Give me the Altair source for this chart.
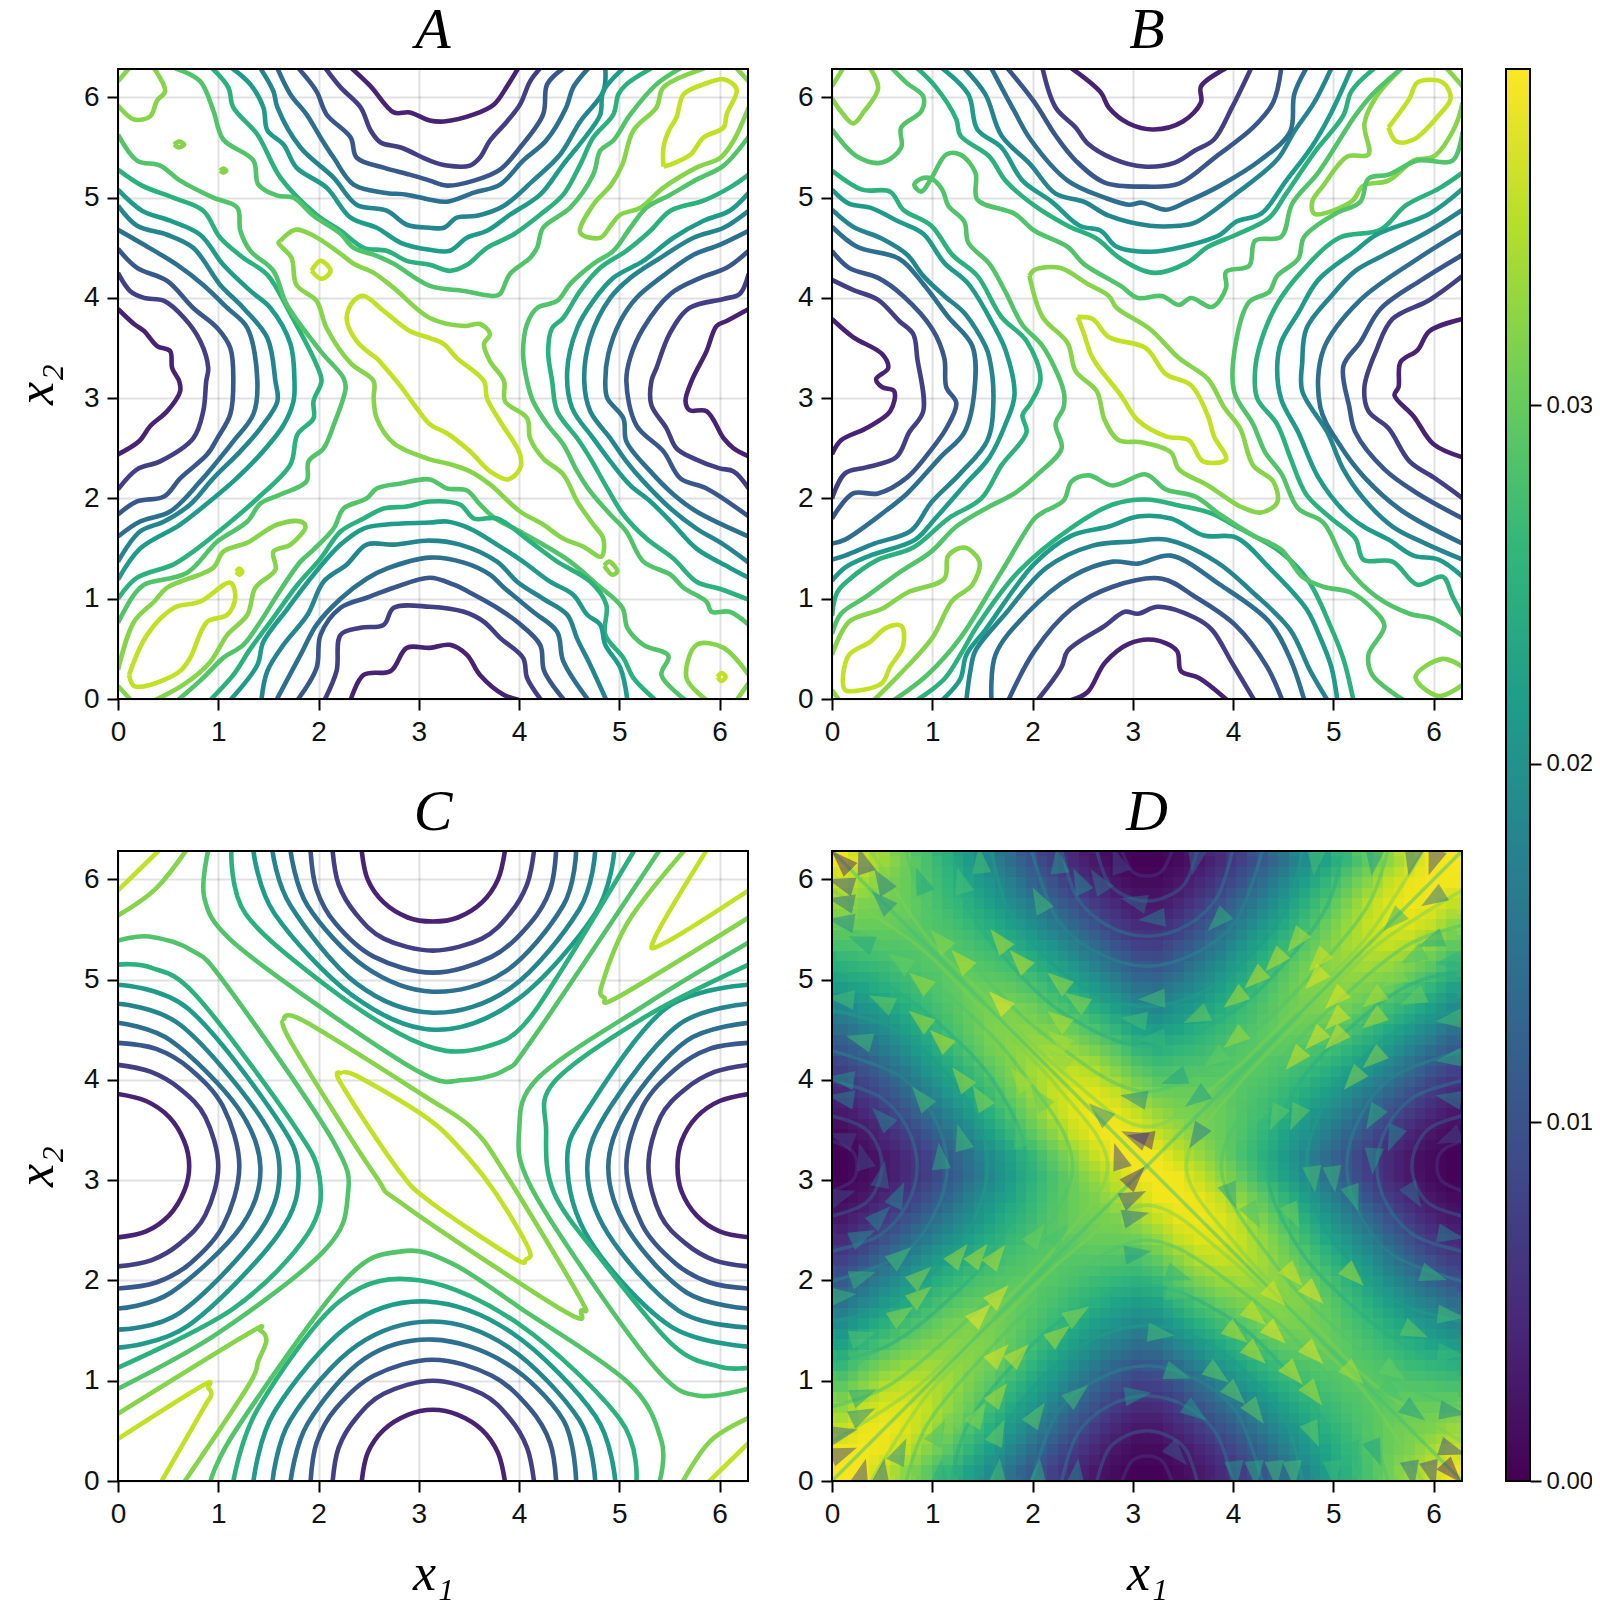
import math
import altair as alt
import pandas as pd

TAU = 2 * math.pi
TICKS = [0, 1, 2, 3, 4, 5, 6]
LEVEL_MAX = 11
CB_MAX = 0.03937
SERIF = "Liberation Serif"
SANS = "Liberation Sans"
SIZE = 630

# Contour lines: (level index, x,y,x,y,...)
A_LINES = [
 (1,[2.33,6.29,2.52,6.11,2.75,5.85,2.91,5.85,3.11,5.77,3.25,5.76,3.55,5.83,3.75,5.93,3.88,6.11,3.99,6.29]),
 (2,[2.07,6.29,2.22,6.1,2.42,5.9,2.52,5.67,2.62,5.55,2.82,5.5,3.11,5.37,3.28,5.32,3.51,5.32,3.61,5.4,3.71,5.57,3.88,5.76,4.01,5.93,4.11,6.16,4.21,6.29]),
 (3,[1.8,6.29,1.98,6.06,2.08,5.83,2.32,5.6,2.38,5.4,2.65,5.3,2.91,5.23,3.11,5.17,3.28,5.12,3.55,5.17,3.81,5.28,4.01,5.5,4.24,5.83,4.28,6.13,4.44,6.29]),
 (4,[1.59,6.29,1.72,6.03,1.88,5.83,2.02,5.6,2.15,5.4,2.35,5.13,2.65,5.05,2.88,5.03,3.11,4.98,3.28,4.96,3.55,5.05,3.81,5.13,4.04,5.37,4.27,5.57,4.47,5.9,4.54,6.1,4.69,6.29]),
 (5,[1.42,6.29,1.55,6.06,1.59,5.9,1.82,5.5,2.15,5.2,2.38,4.93,2.68,4.87,2.88,4.73,3.11,4.7,3.25,4.7,3.38,4.8,3.58,4.82,3.85,4.92,4.14,5.17,4.41,5.43,4.61,5.76,4.84,6.06,4.86,6.29]),
 (6,[1.14,6.29,1.32,6.13,1.45,5.9,1.49,5.67,1.65,5.53,1.78,5.3,2.08,5.1,2.32,4.8,2.58,4.7,2.82,4.55,3.11,4.48,3.31,4.47,3.48,4.6,3.68,4.67,3.91,4.83,4.21,5.03,4.44,5.33,4.68,5.63,4.81,5.83,4.84,6.06,5.04,6.29]),
 (7,[.94,6.29,1.1,6.1,1.15,5.9,1.39,5.63,1.62,5.2,1.98,4.83,2.22,4.67,2.45,4.5,2.68,4.47,2.88,4.37,3.11,4.33,3.31,4.27,3.48,4.33,3.68,4.5,3.94,4.63,4.21,4.83,4.44,5.03,4.61,5.33,4.74,5.6,4.94,5.83,4.99,6.03,5.07,6.13,5.32,6.29]),
 (8,[.57,6.29,.82,6.16,.95,5.87,1.05,5.58,1.35,5.37,1.4,5.13,1.59,5.02,1.75,5.0,1.95,4.82,2.22,4.64,2.35,4.5,2.58,4.42,2.75,4.34,3.11,4.12,3.45,4.07,3.75,4.02,3.81,4.04,3.91,4.24,4.11,4.4,4.18,4.5,4.24,4.7,4.51,4.9,4.74,5.23,4.81,5.47,4.94,5.57,5.11,5.83,5.37,6.13,5.61,6.29]),
 (9,[5.85,6.29,5.44,6.1,5.37,5.9,5.14,5.67,5.03,5.33,4.92,5.13,4.74,4.93,4.61,4.65,4.81,4.6,4.92,4.73,5.01,4.83,5.21,4.9,5.44,5.1,5.77,5.3,6.01,5.4,6.14,5.57,6.29,5.9]),
 (8,[6.29,5.61,6.04,5.32,5.77,5.18,5.51,5.03,5.27,4.9,5.11,4.7,4.94,4.47,4.74,4.34,4.51,4.14,4.38,3.97,4.18,3.9,4.08,3.74,4.04,3.44,4.08,3.17,4.14,2.97,4.28,2.74,4.44,2.54,4.58,2.27,4.71,2.07,4.91,1.84,5.07,1.67,5.24,1.37,5.51,1.24,5.64,1.11,5.87,.97,5.92,.87,6.1,.87,6.29,.74]),
 (7,[6.29,5.23,6.1,5.1,5.84,4.97,5.51,4.87,5.31,4.67,5.07,4.47,4.81,4.3,4.61,4.07,4.44,3.8,4.33,3.7,4.29,3.47,4.33,3.17,4.38,2.87,4.58,2.6,4.71,2.4,4.88,2.1,5.04,1.84,5.27,1.6,5.54,1.4,5.77,1.17,6.0,1.1,6.29,.99]),
 (6,[6.29,5.05,6.1,4.87,5.84,4.77,5.54,4.6,5.24,4.37,4.94,4.2,4.74,3.97,4.58,3.7,4.48,3.27,4.53,2.9,4.74,2.6,4.91,2.37,5.11,2.13,5.31,1.97,5.54,1.74,5.77,1.5,6.1,1.31,6.29,1.21]),
 (5,[6.29,4.87,6.04,4.7,5.74,4.6,5.41,4.4,5.11,4.2,4.91,4.0,4.71,3.6,4.65,3.17,4.71,2.87,4.91,2.6,5.07,2.37,5.24,2.17,5.51,1.9,5.77,1.7,6.04,1.54,6.29,1.36]),
 (4,[6.29,4.67,6.0,4.53,5.74,4.43,5.41,4.2,5.17,4.0,5.01,3.77,4.89,3.44,4.86,3.17,4.88,3.0,5.04,2.8,5.07,2.57,5.31,2.27,5.54,2.04,5.77,1.87,6.29,1.62]),
 (3,[6.29,4.47,6.07,4.3,5.81,4.2,5.51,4.04,5.24,3.7,5.11,3.41,5.07,3.17,5.17,2.73,5.44,2.47,5.61,2.2,5.87,2.1,6.29,1.82]),
 (2,[6.29,4.24,6.2,4.04,6.04,3.99,5.7,3.9,5.5,3.64,5.37,3.3,5.32,3.17,5.32,2.93,5.47,2.7,5.57,2.5,5.74,2.4,6.0,2.3,6.14,2.27,6.29,2.1]),
 (1,[6.29,3.89,6.07,3.77,5.97,3.72,5.87,3.47,5.72,3.17,5.66,2.97,5.7,2.88,5.87,2.87,6.04,2.6,6.14,2.5,6.29,2.42]),
 (1,[0,3.89,.16,3.74,.26,3.67,.39,3.52,.52,3.47,.54,3.3,.61,3.17,.62,3.07,.49,2.87,.32,2.72,.21,2.57,0,2.44]),
 (2,[0,4.25,.12,4.07,.26,4.0,.46,3.97,.66,3.8,.82,3.57,.9,3.3,.88,3.17,.85,2.87,.75,2.6,.42,2.37,.19,2.29,0,2.09]),
 (3,[0,4.49,.19,4.3,.49,4.17,.75,3.9,.99,3.7,1.12,3.5,1.15,3.17,1.12,2.84,.99,2.6,.89,2.44,.62,2.2,.46,2.02,.19,1.97,0,1.84]),
 (4,[0,4.68,.26,4.53,.59,4.33,.85,4.13,1.09,3.9,1.29,3.7,1.39,3.17,1.35,2.84,1.15,2.57,.99,2.37,.82,2.17,.52,1.87,.22,1.77,0,1.62]),
 (5,[0,4.92,.19,4.72,.49,4.63,.75,4.5,1.02,4.13,1.25,3.9,1.49,3.6,1.57,3.17,1.59,2.97,1.42,2.7,1.22,2.47,.95,2.2,.72,1.94,.46,1.77,.22,1.67,0,1.37]),
 (6,[0,5.08,.24,4.87,.52,4.77,.82,4.63,1.05,4.33,1.32,4.07,1.52,3.9,1.72,3.54,1.76,3.17,1.75,2.97,1.65,2.73,1.42,2.44,1.15,2.17,.95,2.0,.62,1.74,.22,1.5,0,1.19]),
 (7,[0,5.28,.24,5.12,.55,5.0,.85,4.87,1.02,4.6,1.25,4.4,1.49,4.23,1.72,3.84,1.99,3.31,2.03,3.17,1.95,2.97,1.95,2.8,1.79,2.64,1.72,2.34,1.39,2.0,1.09,1.74,.75,1.47,.55,1.34,.19,1.21,0,1.0]),
 (8,[0,5.63,.19,5.37,.42,5.32,.62,5.17,.95,5.0,1.19,4.9,1.22,4.67,1.32,4.47,1.55,4.27,1.68,3.94,2.02,3.47,2.25,3.2,2.27,3.1,2.15,2.73,2.05,2.5,1.9,2.37,1.88,2.17,1.62,2.04,1.42,1.95,1.29,1.77,.99,1.57,.69,1.26,.26,1.14,.16,1.04,0,.76]),
 (9,[0,.29,.16,.77,.36,.97,.49,1.11,.95,1.31,1.05,1.47,1.29,1.56,1.59,1.74,1.82,1.77,1.87,1.72,1.72,1.54,1.55,1.47,1.57,1.29,1.37,1.11,1.29,.84,1.09,.64,.92,.37,.65,.14,.37,-.01]),
 (9,[1.62,4.57,1.77,4.68,1.95,4.62,2.22,4.44,2.35,4.34,2.55,4.25,2.75,4.1,3.11,3.8,3.45,3.72,3.61,3.74,3.71,3.64,3.65,3.54,3.71,3.37,3.85,3.17,3.86,2.97,4.08,2.8,4.11,2.6,4.24,2.4,4.44,2.24,4.58,1.97,4.74,1.74,4.84,1.6,4.82,1.42,4.64,1.52,4.44,1.6,4.24,1.74,4.01,1.87,3.71,2.14,3.51,2.27,3.28,2.35,3.11,2.39,2.75,2.55,2.58,2.8,2.55,3.0,2.55,3.17,2.32,3.35,2.08,3.7,1.98,3.97,1.78,4.13,1.73,4.4,1.6,4.55,1.62,4.57]),
 (10,[2.58,3.4,2.38,3.57,2.28,3.8,2.35,3.97,2.45,4.02,2.65,3.87,2.91,3.67,3.11,3.6,3.25,3.54,3.38,3.4,3.65,3.17,3.68,3.0,3.81,2.77,4.01,2.44,4.01,2.3,3.89,2.19,3.71,2.27,3.51,2.47,3.28,2.65,3.11,2.74,2.98,2.9,2.81,3.13,2.58,3.4]),
 (10,[1.93,4.27,2.02,4.37,2.12,4.27,2.03,4.19,1.93,4.27]),
 (10,[5.44,5.31,5.44,5.5,5.49,5.66,5.57,5.8,5.64,6.03,5.84,6.13,6.04,6.18,6.17,6.08,6.07,5.83,6.04,5.7,5.84,5.6,5.71,5.43,5.51,5.33,5.44,5.31]),
 (9,[6.17,6.29,6.29,6.16]),
 (9,[.56,5.53,.61,5.56,.66,5.53,.61,5.5,.56,5.53]),
 (9,[1.02,5.27,1.05,5.29,1.08,5.27,1.05,5.25,1.02,5.27]),
 (9,[0,6.16,.11,6.29]),
 (9,[0,5.92,.16,5.78,.32,5.81,.39,5.97,.47,6.06,.36,6.29]),
 (10,[1.18,1.27,1.21,1.3,1.24,1.27,1.21,1.24,1.18,1.27]),
 (10,[.11,.24,.29,.64,.56,.91,.82,.97,1.12,1.16,1.17,1.01,1.09,.84,.89,.77,.72,.41,.62,.28,.32,.14,.16,.13,.11,.24]),
 (9,[0,.13,.12,0]),
 (8,[.6,-.01,.85,.21,1.05,.41,1.25,.54,1.42,.77,1.59,1.04,1.82,1.37,1.95,1.49,2.15,1.7,2.25,1.9,2.48,2.0,2.58,2.1,2.82,2.15,3.11,2.19,3.28,2.1,3.48,2.08,3.61,1.94,3.75,1.81,4.01,1.67,4.24,1.54,4.51,1.37,4.78,1.14,5.03,.91,5.08,.71,5.24,.54,5.49,.43,5.42,.24,5.66,-.01]),
 (7,[.92,-.01,1.15,.24,1.32,.5,1.52,.77,1.79,1.14,2.02,1.4,2.22,1.67,2.45,1.8,2.65,1.9,2.88,1.92,3.11,1.97,3.41,1.94,3.55,1.8,3.78,1.8,4.11,1.57,4.38,1.37,4.71,1.17,4.87,.94,4.86,.64,5.04,.41,5.14,.21,5.36,-.01]),
 (6,[1.12,-.01,1.39,.34,1.45,.57,1.69,.9,1.95,1.24,2.22,1.54,2.45,1.7,2.68,1.74,3.11,1.76,3.28,1.77,3.51,1.7,3.78,1.54,4.04,1.37,4.31,1.17,4.54,1.04,4.68,.84,4.81,.74,4.86,.54,5.01,.31,5.08,-.01]),
 (5,[1.43,-.01,1.49,.28,1.65,.54,1.89,.84,2.05,1.17,2.28,1.34,2.48,1.54,2.75,1.54,3.11,1.58,3.41,1.54,3.78,1.37,3.98,1.17,4.24,1.0,4.48,.84,4.58,.6,4.71,.34,4.87,-.01]),
 (4,[1.58,-.01,1.82,.44,1.98,.74,2.22,1.0,2.48,1.2,2.68,1.3,3.11,1.41,3.45,1.36,3.71,1.24,3.85,1.11,4.14,.87,4.38,.67,4.44,.38,4.69,-.01]),
 (3,[1.79,-.01,1.98,.31,2.02,.64,2.22,.91,2.48,1.01,2.75,1.11,3.11,1.21,3.35,1.14,3.55,1.04,3.78,.91,3.98,.77,4.21,.54,4.25,.28,4.45,-.01]),
 (2,[2.06,-.01,2.18,.28,2.22,.64,2.42,.71,2.65,.74,2.75,.91,3.11,.92,3.45,.87,3.65,.77,3.81,.61,4.04,.41,4.08,.21,4.22,-.01]),
 (1,[2.32,-.01,2.45,.24,2.72,.28,2.88,.51,3.11,.51,3.31,.54,3.48,.44,3.61,.24,3.85,.04,4.0,-.01]),
 (9,[5.87,-.01,5.67,.21,5.77,.54,6.04,.51,6.29,.24]),
 (9,[6.17,-.01,6.29,.16]),
 (10,[5.98,.22,6.02,.26,6.06,.22,6.02,.18,5.98,.22]),
 (9,[4.85,1.33,4.9,1.37,4.98,1.27,4.93,1.24,4.85,1.33]),
]

B_LINES = [
 (1,[2.39,-.01,2.55,.07,2.72,.36,2.96,.55,3.21,.59,3.44,.48,3.48,.28,3.66,.21,3.94,-.01]),
 (2,[2.05,-.01,2.29,.32,2.35,.48,2.72,.73,2.92,.87,3.05,.85,3.25,.92,3.62,.81,3.79,.69,3.99,.36,4.21,-.01]),
 (3,[1.76,-.01,2.02,.48,2.39,.9,2.8,1.12,3.29,1.2,3.62,1.02,4.03,.73,4.34,.32,4.49,-.01]),
 (4,[1.59,-.01,1.63,.44,1.94,.85,2.39,1.22,2.8,1.37,3.05,1.35,3.38,1.43,3.87,1.14,4.36,.77,4.57,.4,4.71,-.01]),
 (5,[1.34,-.01,1.38,.28,1.43,.48,1.73,.85,2.14,1.31,2.6,1.53,3.0,1.57,3.33,1.59,3.83,1.37,4.2,1.06,4.57,.69,4.77,.28,4.94,-.01]),
 (6,[1.1,-.01,1.28,.2,1.34,.44,1.53,.69,2.02,1.35,2.39,1.63,2.76,1.72,3.05,1.82,3.38,1.8,3.71,1.63,4.03,1.61,4.36,1.31,4.73,.9,4.87,.61,4.98,.32,5.04,-.01]),
 (7,[.85,-.01,1.12,.2,1.28,.44,1.45,.73,1.86,1.27,2.39,1.71,2.8,1.94,3.13,1.99,3.46,1.93,3.79,1.85,4.03,1.72,4.47,1.47,4.75,1.18,4.97,.73,5.1,.4,5.2,-.01]),
 (8,[.62,-.01,.95,.24,1.28,.61,1.69,1.27,2.02,1.8,2.1,1.86,2.31,1.98,2.39,2.17,2.56,2.23,2.8,2.13,3.13,2.24,3.33,2.09,3.62,2.02,3.87,1.84,4.2,1.63,4.48,1.49,4.69,1.22,4.9,1.12,5.18,1.06,5.39,.9,5.51,.73,5.35,.44,5.39,.24,5.7,-.01]),
 (9,[0,.44,.17,.77,.5,.9,.75,1.06,1.12,1.2,1.16,1.43,1.32,1.51,1.47,1.37,1.4,1.14,1.2,.98,1.0,.61,.67,.24,.42,-.01]),
 (9,[0,.09,.07,-.01]),
 (10,[.11,.24,.17,.44,.38,.57,.54,.71,.69,.73,.71,.53,.58,.32,.5,.16,.3,.09,.13,.09,.11,.24]),
 (10,[2.45,3.81,2.6,3.79,2.76,3.61,3.13,3.5,3.33,3.24,3.58,3.13,3.75,2.82,3.81,2.62,3.93,2.39,3.7,2.37,3.56,2.58,3.33,2.62,3.05,2.78,2.88,3.03,2.6,3.4,2.51,3.65,2.45,3.81]),
 (9,[1.97,4.22,2.02,4.28,2.27,4.3,2.55,4.14,2.76,4.02,2.84,3.9,3.17,3.69,3.46,3.4,3.75,3.19,3.91,2.91,4.07,2.7,4.2,2.33,4.4,2.17,4.44,1.96,4.28,1.86,4.07,1.92,3.75,2.13,3.46,2.29,3.38,2.46,3.09,2.56,2.86,2.58,2.72,2.78,2.64,3.07,2.43,3.27,2.35,3.55,2.1,3.81,1.97,4.22]),
 (9,[5.68,6.29,5.43,6.01,5.31,5.74,5.35,5.43,5.14,5.41,4.9,5.12,4.79,4.96,4.81,4.84,5.18,4.96,5.3,5.12,5.55,5.17,5.8,5.37,6.0,5.41,6.21,5.7,6.29,5.95]),
 (9,[.38,6.29,.46,6.09,.32,5.86,.21,5.74,.09,5.86,0,5.99]),
 (9,[0,6.11,.11,6.29]),
 (10,[5.55,5.7,5.76,5.99,5.84,6.15,6.09,6.15,6.17,5.99,6.05,5.82,5.8,5.58,5.63,5.56,5.55,5.7]),
 (9,[6.13,6.29,6.29,6.11]),
 (9,[6.29,.32,6.09,.4,5.82,.22,6.05,.03,6.29,.14]),
 (8,[.6,6.29,.75,6.14,.91,6.01,.89,5.86,.69,5.7,.69,5.5,.5,5.35,.25,5.41,0,5.68]),
 (8,[0,.65,.09,.85,.34,1.02,.67,1.26,.99,1.47,1.24,1.72,1.57,1.92,1.82,2.05,2.06,2.25,2.29,2.5,2.23,2.74,2.31,2.91,2.31,3.07,2.1,3.52,1.9,3.73,1.73,4.06,1.57,4.34,1.36,4.55,1.32,4.76,1.16,4.92,1.1,5.08,.99,5.19,.89,5.19,.82,5.13,.89,5.06,.99,5.19,1.14,5.43,1.28,5.43,1.43,5.25,1.45,4.98,1.82,4.84,2.02,4.67,2.35,4.51,2.51,4.34,2.88,4.12,3.05,4.0,3.29,4.02,3.46,3.93,3.58,4.0,3.79,3.91,3.93,4.1,3.93,4.26,4.16,4.32,4.22,4.57,4.48,4.61,4.59,4.94,4.85,5.25,5.22,5.82,5.39,6.03,5.68,6.29]),
 (8,[6.29,5.66,6.19,5.37,5.84,5.37,5.55,5.23,5.35,5.19,5.27,4.96,5.02,4.84,4.71,4.61,4.65,4.39,4.44,4.22,4.36,4.06,4.16,3.96,4.03,3.57,4.01,3.07,4.2,2.74,4.32,2.46,4.48,2.25,4.65,1.9,4.9,1.76,5.14,1.31,5.43,1.02,5.76,.85,6.0,.8,6.29,.63]),
 (7,[0,5.27,.3,5.08,.58,5.06,.71,4.88,.99,4.72,1.2,4.43,1.45,4.22,1.69,3.81,1.94,3.57,2.08,3.19,1.98,2.95,1.9,2.83,1.94,2.66,1.69,2.33,1.49,2.0,1.16,1.8,.81,1.51,.46,1.39,.17,1.19,.05,1.06,0,.83]),
 (7,[.85,6.29,1.03,6.11,1.24,5.78,1.28,5.62,1.57,5.41,1.73,5.17,2.02,4.92,2.35,4.72,2.64,4.59,2.88,4.39,3.21,4.25,3.54,4.35,3.75,4.51,4.03,4.63,4.36,4.8,4.53,5.04,4.81,5.45,5.1,5.82,5.18,6.06,5.41,6.29]),
 (7,[6.29,5.25,6.05,5.09,5.72,4.92,5.47,4.68,5.06,4.6,4.69,4.27,4.44,3.94,4.28,3.57,4.22,3.28,4.24,3.0,4.44,2.74,4.57,2.41,4.73,2.04,4.98,1.8,5.22,1.6,5.3,1.39,5.59,1.37,5.84,1.14,6.09,1.22,6.19,1.02,6.29,.83]),
 (6,[0,5.08,.17,4.94,.38,4.9,.67,4.76,.91,4.64,1.12,4.35,1.36,4.14,1.61,3.73,1.73,3.48,1.82,3.03,1.73,2.74,1.57,2.41,1.32,2.13,1.03,1.8,.83,1.59,.38,1.43,.13,1.31,0,1.18]),
 (6,[1.1,6.29,1.36,6.03,1.45,5.68,1.69,5.5,1.9,5.17,2.19,4.96,2.47,4.72,2.68,4.67,2.84,4.51,3.17,4.46,3.5,4.51,3.87,4.63,4.03,4.76,4.28,4.84,4.53,5.17,4.78,5.5,4.98,5.85,5.18,6.29]),
 (6,[6.29,5.09,5.96,4.84,5.43,4.63,5.22,4.47,4.85,4.18,4.65,3.85,4.48,3.56,4.44,3.31,4.48,2.99,4.65,2.66,4.85,2.21,5.1,1.88,5.3,1.72,5.55,1.59,5.8,1.43,6.05,1.39,6.29,1.22]),
 (5,[0,4.88,.21,4.71,.5,4.59,.75,4.43,.91,4.22,1.12,4.02,1.32,3.85,1.53,3.52,1.57,3.4,1.61,2.99,1.55,2.58,1.28,2.25,.99,1.96,.79,1.68,.42,1.55,.13,1.43,0,1.39]),
 (5,[1.32,6.29,1.53,6.03,1.69,5.62,1.98,5.33,2.23,5.04,2.51,4.96,2.76,4.82,3.17,4.72,3.46,4.72,3.62,4.75,4.03,5.04,4.44,5.38,4.61,5.66,4.81,5.95,4.98,6.29]),
 (5,[6.29,4.88,5.96,4.67,5.51,4.43,5.22,4.27,4.98,4.02,4.73,3.69,4.69,3.36,4.69,3.07,4.94,2.66,5.1,2.29,5.3,2.0,5.59,1.72,5.92,1.55,6.29,1.39]),
 (4,[0,4.71,.25,4.51,.67,4.39,.91,4.14,1.16,3.81,1.4,3.52,1.42,3.07,1.32,2.66,1.08,2.41,.75,2.05,.54,1.88,.13,1.59,0,1.55]),
 (4,[1.59,6.29,1.82,5.86,1.98,5.58,2.35,5.17,2.72,5.0,2.96,4.93,3.09,4.95,3.33,4.88,3.54,4.96,3.87,5.12,4.28,5.38,4.57,5.66,4.61,6.03,4.73,6.29]),
 (4,[6.29,4.67,5.84,4.39,5.27,3.98,4.9,3.48,4.87,2.91,5.06,2.54,5.31,2.21,5.68,1.88,6.29,1.55]),
 (3,[1.75,6.29,2.02,5.95,2.23,5.62,2.43,5.37,2.72,5.15,3.13,5.11,3.46,5.14,3.83,5.41,4.2,5.7,4.4,5.95,4.48,6.29]),
 (3,[0,4.47,.17,4.3,.46,4.2,.71,4.02,1.0,3.69,1.12,3.4,1.14,3.11,1.24,2.95,1.14,2.7,1.0,2.5,.75,2.21,.46,2.05,.21,2.05,0,1.8]),
 (3,[6.29,4.43,5.88,4.18,5.47,3.89,5.27,3.56,5.1,3.32,5.16,2.91,5.22,2.66,5.51,2.29,5.84,2.05,6.29,1.8]),
 (2,[2.1,6.29,2.23,5.9,2.43,5.7,2.55,5.54,2.8,5.39,3.11,5.31,3.42,5.35,3.62,5.47,3.81,5.58,3.99,5.9,4.18,6.29]),
 (2,[0,4.18,.21,4.08,.46,3.98,.67,3.77,.81,3.64,.85,3.4,.91,2.87,.77,2.66,.64,2.41,.34,2.31,.13,2.25,0,2.0]),
 (2,[6.29,4.22,5.96,3.98,5.59,3.79,5.43,3.48,5.31,3.11,5.35,2.87,5.55,2.7,5.76,2.37,6.0,2.21,6.17,2.09,6.29,2.0]),
 (1,[2.39,6.29,2.68,6.05,2.76,5.9,2.96,5.74,3.21,5.68,3.5,5.76,3.68,5.95,3.68,6.11,3.93,6.29]),
 (1,[0,3.79,.21,3.61,.5,3.44,.56,3.3,.44,3.19,.5,3.11,.62,3.07,.58,2.87,.34,2.7,.09,2.58,0,2.44]),
 (1,[6.29,3.79,5.96,3.67,5.84,3.48,5.67,3.36,5.65,3.11,5.61,3.03,5.8,2.82,6.0,2.54,6.29,2.41]),
]

C_LINES = [
 (1,[2.43,-.01,2.49,.28,2.65,.51,2.89,.66,3.14,.71,3.39,.66,3.63,.51,3.79,.28,3.86,-.01]),
 (1,[2.43,6.29,2.49,6.0,2.65,5.77,2.89,5.62,3.14,5.58,3.39,5.62,3.63,5.77,3.79,6.0,3.86,6.29]),
 (1,[0,3.86,.28,3.79,.51,3.63,.66,3.39,.71,3.14,.66,2.89,.51,2.65,.28,2.49,0,2.43]),
 (1,[6.29,3.86,6.0,3.79,5.77,3.63,5.62,3.39,5.58,3.14,5.62,2.89,5.77,2.65,6.0,2.49,6.29,2.43]),
 (2,[2.14,-.01,2.2,.33,2.37,.62,2.65,.87,3.14,1.0,3.63,.87,3.91,.62,4.08,.33,4.15,-.01]),
 (2,[2.14,6.29,2.2,5.95,2.37,5.66,2.65,5.41,3.14,5.29,3.63,5.41,3.91,5.66,4.08,5.95,4.15,6.29]),
 (2,[0,4.15,.33,4.08,.62,3.91,.87,3.63,1.0,3.14,.87,2.65,.62,2.37,.33,2.2,0,2.14]),
 (2,[6.29,4.15,5.95,4.08,5.66,3.91,5.41,3.63,5.29,3.14,5.41,2.65,5.66,2.37,5.95,2.2,6.29,2.14]),
 (3,[1.92,-.01,1.98,.38,2.17,.72,2.55,1.05,3.14,1.21,3.73,1.05,4.11,.72,4.31,.38,4.37,-.01]),
 (3,[1.92,6.29,1.98,5.9,2.17,5.56,2.55,5.23,3.14,5.07,3.73,5.23,4.11,5.56,4.31,5.9,4.37,6.29]),
 (3,[0,4.37,.38,4.31,.72,4.11,1.05,3.73,1.21,3.14,1.05,2.55,.72,2.17,.38,1.98,0,1.92]),
 (3,[6.29,4.37,5.9,4.31,5.56,4.11,5.23,3.73,5.07,3.14,5.23,2.55,5.56,2.17,5.9,1.98,6.29,1.92]),
 (4,[1.72,-.01,1.89,.57,2.46,1.22,3.14,1.41,3.86,1.18,4.44,.61,4.57,-.01]),
 (4,[1.72,6.29,1.89,5.74,2.46,5.13,3.14,4.88,3.86,5.08,4.44,5.74,4.57,6.29]),
 (4,[0,4.57,.53,4.39,1.19,3.73,1.42,3.13,1.23,2.54,.53,1.88,0,1.72]),
 (4,[6.29,4.57,5.67,4.39,5.09,3.73,4.89,3.13,5.09,2.5,5.67,1.88,6.29,1.72]),
 (5,[1.54,-.01,1.72,.61,2.38,1.35,3.14,1.59,3.9,1.33,4.6,.61,4.76,-.01]),
 (5,[1.54,6.29,1.72,5.74,2.38,4.96,3.14,4.67,3.92,4.92,4.6,5.7,4.76,6.29]),
 (5,[0,4.76,.62,4.55,1.38,3.69,1.61,3.13,1.42,2.5,.62,1.68,0,1.51]),
 (5,[6.29,4.76,5.59,4.55,4.91,3.73,4.68,3.13,4.89,2.46,5.59,1.7,6.29,1.53]),
 (6,[1.35,-.01,1.56,.69,2.3,1.55,3.08,1.79,3.94,1.47,4.76,.65,4.96,-.01]),
 (6,[1.35,6.29,1.56,5.66,2.34,4.84,3.16,4.5,3.98,4.8,4.76,5.66,4.95,6.29]),
 (6,[0,4.95,.7,4.71,1.56,3.65,1.8,3.09,1.6,2.46,.7,1.55,0,1.33]),
 (6,[6.29,4.95,5.46,4.71,4.7,3.73,4.48,3.2,4.7,2.41,5.5,1.55,6.29,1.34]),
 (7,[1.15,-.01,1.4,.73,2.22,1.8,3.02,2.0,4.02,1.55,5.01,.61,5.17,-.01]),
 (7,[1.13,6.29,1.27,5.66,2.05,4.96,2.79,4.47,3.27,4.29,3.7,4.34,4.03,4.53,4.44,5.12,5.15,6.29]),
 (7,[0,5.15,.33,5.12,.78,4.84,1.72,3.6,2.01,3.03,1.89,2.46,1.15,1.72,0,1.13]),
 (7,[6.29,5.15,5.26,4.63,4.35,3.98,4.27,3.49,4.35,2.87,4.85,2.17,5.54,1.35,6.0,1.14,6.29,1.13]),
 (8,[.92,-.01,1.19,.53,2.26,2.0,2.83,2.29,3.33,2.17,4.02,1.72,5.09,.98,5.42,.4,5.4,-.01]),
 (8,[.9,6.29,.86,5.82,1.11,5.41,1.97,4.76,3.04,4.06,3.45,4.0,3.86,4.1,4.15,4.43,5.4,6.29]),
 (8,[0,5.39,.31,5.43,.74,5.29,1.07,4.96,2.14,3.4,2.29,2.83,2.05,2.29,.99,1.47,0,.92]),
 (8,[6.29,5.37,5.26,4.75,4.19,4.02,4.0,3.48,4.11,2.95,4.77,1.92,5.42,1.06,5.79,.85,6.29,.92]),
 (9,[1.66,4.59,1.85,4.59,3.04,3.85,3.53,3.52,3.86,3.07,4.6,1.84,4.62,1.7,4.44,1.7,2.87,2.74,2.55,3.07,1.73,4.37,1.66,4.59]),
 (9,[0,.67,1.3,1.47,1.42,1.5,1.48,1.4,1.4,1.2,1.3,.95,.66,-.01]),
 (9,[0,5.64,.37,5.9,.68,6.29]),
 (9,[6.29,5.62,5.01,4.84,4.85,4.82,4.83,4.96,5.09,5.58,5.65,6.29]),
 (9,[6.29,.63,5.91,.4,5.63,-.01]),
 (10,[2.24,4.06,2.38,4.04,3.04,3.65,3.37,3.36,3.74,2.91,4.09,2.33,4.07,2.21,3.94,2.23,3.12,2.78,2.79,3.11,2.22,3.97,2.24,4.06]),
 (10,[0,.42,.84,.95,.9,.93,.93,.86,.85,.72,.43,-.01]),
 (10,[0,5.89,.41,6.29]),
 (10,[6.29,5.89,5.46,5.37,5.36,5.43,5.87,6.29]),
 (10,[6.29,.38,5.89,-.01]),
]

# Field of panel D on a 30x30 grid: lower-left quarter, in units of 1e-4
D_QUARTER = [
 [390,385,359,328,297,265,229,190,149,111,75,48,25,10,3],
 [385,388,382,358,324,293,259,223,183,142,104,70,44,23,10],
 [359,382,385,375,350,316,282,250,214,175,136,100,67,42,24],
 [328,358,375,375,358,332,302,272,240,206,170,131,95,66,46],
 [297,324,350,358,356,338,316,291,265,235,200,163,127,96,71],
 [265,293,316,332,338,335,324,307,286,257,226,194,160,130,105],
 [229,259,282,302,316,324,323,317,297,275,249,222,193,166,142],
 [190,223,250,272,291,307,317,313,304,286,267,246,223,201,181],
 [149,183,214,240,265,286,297,304,302,294,280,266,249,231,218],
 [111,142,175,206,235,257,275,286,294,294,290,280,270,260,252],
 [75,104,136,170,200,226,249,267,280,290,293,290,289,284,280],
 [48,70,100,131,163,194,222,246,266,280,290,299,304,304,307],
 [25,44,67,95,127,160,193,223,249,270,289,304,312,317,335],
 [10,23,42,66,96,130,166,201,231,260,284,304,317,340,360],
 [3,10,24,46,71,105,142,181,218,252,280,307,335,360,385],
]
CELLS = 30

# Stream arcs around a vortex: (colour t, distance along the axis, distance across)
ARCS = [
 (.15,[0,.25,.15,.2,.25,0]),
 (.3,[0,.5,.25,.43,.4,.29,.5,0]),
 (.4,[0,.85,.4,.74,.7,.46,.85,0]),
 (.45,[0,1.15,.5,1.01,.9,.67,1.15,0]),
 (.55,[0,1.55,.6,1.38,1.1,.97,1.4,.55,1.55,0]),
 (.62,[0,1.95,.8,1.64,1.4,1.09,1.8,.54,1.95,0]),
 (.72,[0,2.4,1.0,1.85,1.7,1.17,2.2,.55,2.4,0]),
 (.8,[0,2.75,.8,2.24,1.6,1.46,2.2,.85,2.75,0]),
]

# Arrowheads: x, y, direction (deg clockwise from up), colour t
ARROWS = [
 (.1,6.18,315,.1),(.31,6.18,342,.23),(.1,5.96,287,.24),(.5,5.98,328,.4),(.5,5.78,315,.48),(.1,5.78,282,.35),(.1,5.58,279,.46),(.3,5.38,291,.6),
 (1.08,5.39,318,.83),(1.29,5.19,317,.92),(.68,5.18,305,.77),(.88,4.98,309,.87),(1.67,4.78,315,1),(.5,4.78,296,.78),(.1,4.81,276,.71),(.88,4.6,308,.88),
 (1.08,4.4,313,.92),(.28,4.4,286,.7),(1.29,4.01,322,.87),(1.48,3.82,328,.83),(.89,3.82,321,.71),(.1,4.01,278,.54),(.1,3.82,279,.45),(.5,3.62,316,.47),
 (.1,3.42,290,.2),(.31,3.23,344,.23),(1.08,3.23,354,.63),(1.29,3.42,344,.7),(1.87,3.45,343,.71),(2.07,3.82,324,.76),(1.87,4.01,322,.87),(2.26,4.21,311,.83),
 (2.26,4.4,309,.87),(2.26,4.6,308,.89),(2.44,4.79,303,.84),(2.26,4.98,309,.87),(1.87,5.19,317,.92),(1.67,5.39,322,.9),(2.67,3.67,312,.48),(2.86,3.23,342,.2),
 (3.02,3.43,293,.21),(3.02,3.82,281,.45),(3.02,4.6,277,.71),(1.48,6.18,354,.71),(.89,5.98,339,.59),(1.29,5.98,343,.71),(2.07,5.79,332,.7),(2.26,6.18,353,.55),
 (2.47,5.98,334,.49),(2.66,5.98,327,.39),(2.85,6.18,341,.22),(3.02,5.78,284,.35),
 (3.62,6.18,192,.33),(3.2,5.61,264,.44),(3.85,5.59,225,.65),(4.82,6.18,186,.71),(5.4,6.18,187,.55),(5.78,6.18,192,.35),(6.0,6.18,200,.21),(6.0,5.81,238,.37),
 (5.6,5.59,225,.64),(5.98,5.38,249,.6),(5.8,5.23,242,.7),(6.16,5.18,262,.64),(5.6,5.0,237,.81),(4.63,5.39,218,.9),(4.42,5.19,223,.92),(4.22,5.01,228,.92),
 (4.02,4.81,232,.89),(4.85,5.19,222,.94),(4.82,5.01,224,.97),(5.02,4.81,226,.97),(5.4,4.81,232,.89),(5.02,4.6,226,.97),(5.4,4.6,232,.89),(4.82,4.41,224,.97),
 (5.02,4.41,225,.95),(4.62,4.21,221,.94),(4.02,4.41,231,.87),(3.82,4.21,234,.76),(5.8,4.81,245,.78),(3.64,4.63,245,.78),(3.2,4.41,266,.67),(5.4,4.21,229,.83),
 (5.2,4.01,221,.82),(6.16,4.6,263,.71),(6.16,4.21,262,.63),(3.2,4.81,267,.71),(3.42,4.01,250,.57),(3.64,3.82,233,.56),(4.23,3.63,208,.71),(4.43,3.63,206,.76),
 (4.63,3.63,205,.78),(5.4,3.63,211,.64),(5.6,3.42,203,.48),(6.16,3.82,281,.45),(6.16,3.42,246,.21),(3.64,3.44,212,.39),(5.4,3.2,184,.55),(3.09,3.42,281,.1),
 (.3,2.44,65,.5),(.1,2.85,71,.22),(.5,3.05,11,.35),(.66,2.85,25,.48),(.48,2.64,46,.48),(.68,2.24,51,.71),(.3,2.04,71,.66),(.1,1.85,84,.68),
 (.88,2.04,49,.83),(.88,1.85,51,.87),(.69,1.66,57,.84),(.3,1.44,73,.73),(.3,1.24,72,.7),(1.26,2.25,39,.87),(1.46,2.25,38,.89),(1.64,2.24,38,.9),
 (1.66,1.85,44,.98),(1.48,1.66,45,1),(2.26,2.45,40,.71),(2.04,2.45,36,.78),(2.44,1.66,57,.84),(2.26,1.46,52,.89),(1.66,1.26,44,.97),(1.86,1.26,45,.95),
 (1.66,.86,37,.89),(1.46,.66,32,.82),(1.26,.66,33,.8),(2.04,.66,34,.76),(2.44,.86,50,.7),(1.66,.48,25,.78),(1.06,.48,28,.7),(.31,.86,68,.58),
 (.3,.66,64,.48),(.11,.48,77,.33),(.11,.28,69,.21),(.68,.29,25,.49),(.3,.08,15,.22),(.5,.08,9,.34),(1.08,.08,5,.62),(1.66,.08,5,.71),
 (2.06,.08,5,.63),(2.44,.08,7,.46),(3.04,.86,82,.54),(3.04,2.27,82,.54),(3.02,2.64,76,.35),(3.02,3.03,43,.11),(3.0,2.83,65,.23),
 (3.98,2.85,159,.56),(4.2,2.65,152,.7),(4.6,2.65,155,.78),(4.8,3.02,173,.71),(5.0,3.02,173,.68),(5.2,2.83,161,.66),(5.8,2.85,148,.38),(6.16,2.45,101,.46),
 (5.2,2.05,135,.88),(5.99,2.05,108,.66),(6.16,1.65,97,.71),(5.81,1.49,114,.77),(6.16,1.27,97,.68),(4.6,2.05,138,.95),(4.8,1.87,136,.98),(4.42,1.85,135,.96),
 (4.22,1.65,131,.94),(4.42,1.47,134,.98),(4.03,1.47,128,.9),(4.22,1.27,133,.92),(4.8,1.27,136,.97),(5.2,1.07,135,.88),(4.6,1.07,139,.94),(4.8,.87,143,.89),
 (3.84,1.07,126,.77),(3.44,1.07,109,.66),(4.02,.87,135,.76),(4.22,.69,144,.77),(3.62,.69,126,.55),(4.8,.47,156,.77),(5.42,.29,159,.57),(5.2,.27,163,.65),
 (5.58,.89,129,.71),(5.8,.69,126,.55),(5.6,1.09,125,.77),(6.18,.69,99,.46),(6.18,.31,108,.23),(4.02,.08,174,.55),(4.22,.08,175,.62),(4.42,.08,175,.68),
 (4.6,.08,175,.71),(5.0,.08,175,.68),(5.78,.08,170,.35),(5.98,.08,165,.22),(6.18,.09,138,.1),(3.44,.27,138,.28),(3.27,1.47,97,.71),(3.45,2.05,109,.66),(3.45,1.86,107,.71),
]
ARROW_X = [a[0] for a in ARROWS]
ARROW_Y = [a[1] for a in ARROWS]
ARROW_DIR = [a[2] for a in ARROWS]
ARROW_T = [a[3] for a in ARROWS]

CB_STOPS = ["#440154","#482878","#3e4a89","#31688e","#26828e","#1f9e89","#35b779","#6ece58","#b5de2b","#fde725"]
CB_TICKS = [0, .01, .02, .03]


def scale():
    return alt.Scale(domain=[0, TAU], nice=False, zero=False)


def frame():
    return alt.Chart(pd.DataFrame({"a": [0]})).mark_rect(fill=None, stroke="black", strokeWidth=2, clip=False).encode(
        x=alt.value(0), x2=alt.value(SIZE), y=alt.value(0), y2=alt.value(SIZE))


def ax(title=None, pad=8, tpad=20):
    kw = dict(values=TICKS, grid=True, gridColor="black", gridOpacity=.12, gridWidth=2, domain=False,
              tickColor="black", tickWidth=2, tickSize=11, labelFont=SANS, labelFontSize=28, labelColor="#111",
              labelPadding=pad, labelOverlap=False, format="d", labelFlush=False)
    if title:
        kw.update(title=title, titleFont=SERIF, titleFontStyle="italic", titleFontWeight="normal",
                  titleFontSize=52, titleColor="black", titlePadding=tpad)
    else:
        kw.update(title=None)
    return alt.Axis(**kw)


def lines_chart(lines, xt, yt, curve="catmull-rom"):
    rows = []
    for i, (k, pts) in enumerate(lines):
        for j in range(0, len(pts), 2):
            rows.append({"x": pts[j], "y": pts[j + 1], "k": k, "id": i, "o": j})
    return alt.Chart(pd.DataFrame(rows)).mark_line(strokeWidth=4.6, interpolate=curve, clip=True).encode(
        x=alt.X("x:Q", scale=scale(), axis=ax(xt)),
        y=alt.Y("y:Q", scale=scale(), axis=ax(yt)),
        detail="id:N", order="o:Q",
        color=alt.Color("k:Q", scale=alt.Scale(scheme="viridis", domain=[0, LEVEL_MAX]), legend=None))


TITLE = dict(font=SERIF, fontStyle="italic", fontWeight="normal", fontSize=58, anchor="middle", offset=8, color="black")


def panel(chart, title, **extra):
    return chart.properties(width=SIZE, height=SIZE, title=alt.TitleParams(title, **TITLE, **extra))


A = panel(alt.layer(lines_chart(A_LINES, None, "x₂"), frame()), "A")
B = panel(alt.layer(lines_chart(B_LINES, None, None), frame()), "B")
C = panel(alt.layer(lines_chart(C_LINES, "x₁", "x₂", "cardinal"), frame()), "C")

# heat map
cells = []
for i in range(CELLS):
    for j in range(CELLS):
        if i < 15 and j < 15:
            v = D_QUARTER[i][j]
        elif i < 15:
            v = D_QUARTER[14 - i][j - 15]
        elif j >= 15:
            v = D_QUARTER[29 - i][29 - j]
        else:
            v = D_QUARTER[i - 15][14 - j]
        cells.append({"x0": i * TAU / CELLS, "x1": (i + 1) * TAU / CELLS, "y0": j * TAU / CELLS, "y1": (j + 1) * TAU / CELLS, "v": v})
cells = pd.DataFrame(cells)


def heat(dx, dy, op, axis=False):
    axy = ax(None) if axis else None
    return alt.Chart(cells).mark_rect(opacity=op, clip=True, xOffset=dx, x2Offset=dx, yOffset=dy, y2Offset=dy).encode(
        x=alt.X("x0:Q", scale=scale(), axis=ax("x₁")), x2="x1:Q",
        y=alt.Y("y0:Q", scale=scale(), axis=axy), y2="y1:Q",
        color=alt.Color("v:Q", scale=alt.Scale(scheme="viridis", domain=[0, 394]), legend=None))


heat_layers = [heat(0, 0, 1, True), heat(-5, -5, 1), heat(5, 5, .5), heat(-5, 5, .3333), heat(5, -5, .25)]

# stream lines
srows = []
sid = 0
for t, pts in ARCS:
    ds = pts[0::2]
    hs = pts[1::2]
    half = [(-d, h) for d, h in zip(ds[::-1], hs[::-1])] + [(d, h) for d, h in zip(ds[1:], hs[1:])]
    for kind in range(4):
        for o, (d, h) in enumerate(half):
            if kind == 0:
                px, py = math.pi + d, h
            elif kind == 1:
                px, py = math.pi + d, TAU - h
            elif kind == 2:
                px, py = h, math.pi + d
            else:
                px, py = TAU - h, math.pi + d
            srows.append({"x": px, "y": py, "t": t, "id": sid, "o": o})
        sid += 1
DIAGONALS = [(0, 0, TAU, TAU), (0, TAU, TAU, 0)]
for x0, y0, x1, y1 in DIAGONALS:
    srows.append({"x": x0, "y": y0, "t": .7, "id": sid, "o": 0})
    srows.append({"x": x1, "y": y1, "t": .7, "id": sid, "o": 1})
    sid += 1
streams = alt.Chart(pd.DataFrame(srows)).mark_line(strokeWidth=3.5, opacity=.5, interpolate="cardinal", clip=True).encode(
    x=alt.X("x:Q", scale=scale(), axis=ax("x₁")), y=alt.Y("y:Q", scale=scale(), axis=None),
    detail="id:N", order="o:Q",
    color=alt.Color("t:Q", scale=alt.Scale(scheme="viridis", domain=[0, 1]), legend=None))

arrows = alt.Chart(pd.DataFrame({"x": ARROW_X, "y": ARROW_Y, "a": ARROW_DIR, "t": ARROW_T})).mark_point(
    shape="M0,-1.1L0.72,0.9L-0.72,0.9Z", filled=True, size=720, opacity=.5, clip=True).encode(
    x=alt.X("x:Q", scale=scale(), axis=ax("x₁")), y=alt.Y("y:Q", scale=scale(), axis=None),
    angle=alt.Angle("a:Q", scale=None),
    color=alt.Color("t:Q", scale=alt.Scale(scheme="viridis", domain=[0, 1]), legend=None))

cbar = alt.Chart(pd.DataFrame({"a": [0.0], "b": [CB_MAX]})).mark_rect(
    fill=alt.LinearGradient(gradient="linear", stops=[alt.GradientStop(color=c, offset=i / (len(CB_STOPS) - 1)) for i, c in enumerate(CB_STOPS)], x1=0, x2=0, y1=1, y2=0),
    stroke="black", strokeWidth=2, clip=False).encode(
    y=alt.Y("a:Q", scale=alt.Scale(domain=[0, CB_MAX], nice=False, range=[SIZE, -782]),
            axis=alt.Axis(orient="right", offset=68, values=CB_TICKS, format=".2f", title=None, domain=False, grid=False,
                          tickColor="black", tickWidth=2, tickSize=11, labelFont=SANS, labelFontSize=24, labelColor="#111", labelPadding=5)),
    y2="b:Q", x=alt.value(674), x2=alt.value(698))

D = panel(alt.layer(*heat_layers, streams, arrows, frame(), cbar).resolve_scale(y="independent", color="independent"), "D", frame="group", dy=782)

chart = alt.concat(A, B, C, D, columns=2, spacing={"row": 152, "column": 84}, bounds="flush").configure_view(stroke=None).properties(
    padding={"left": 2, "top": -6, "right": -1, "bottom": 0})
chart.save("out.html", embed_options={"renderer": "svg", "actions": False})
